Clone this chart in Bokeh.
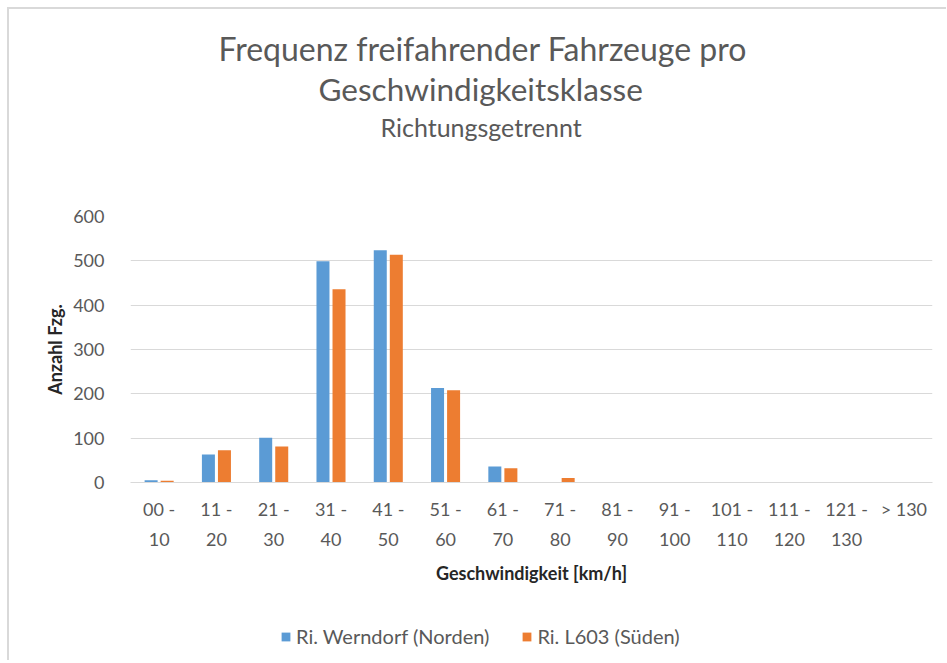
from bokeh.plotting import figure
from bokeh.layouts import column
from bokeh.models import (ColumnDataSource, FactorRange, Range1d, FixedTicker, Legend, LegendItem, Title)
from bokeh.transform import dodge
from bokeh.embed import file_html
from bokeh.resources import INLINE

categories = ["00 -\n10", "11 -\n20", "21 -\n30", "31 -\n40", "41 -\n50", "51 -\n60",
              "61 -\n70", "71 -\n80", "81 -\n90", "91 -\n100", "101 -\n110", "111 -\n120",
              "121 -\n130", "> 130"]
nord = [5, 63, 101, 499, 524, 213, 36, 1, 1, 0, 0, 0, 0, 0]
sued = [4, 73, 81, 436, 514, 208, 32, 10, 0, 0, 0, 0, 0, 0]
y_ticks = [0, 100, 200, 300, 400, 500, 600]

title1 = "Frequenz freifahrender Fahrzeuge pro"
title2 = "Geschwindigkeitsklasse"
subtitle = "Richtungsgetrennt"
series_names = ["Ri. Werndorf (Norden)", "Ri. L603 (Süden)"]

BLUE = "#5B9BD5"
ORANGE = "#ED7D31"
GRAY = "#595959"
BORDER = "2px solid #D9D9D9"
FONT = "Lato"

src = ColumnDataSource(data=dict(cat=categories, nord=nord, sued=sued))

p = figure(x_range=FactorRange(*categories, range_padding=0), y_range=Range1d(0, 600),
           frame_width=800, frame_height=264, output_backend="svg", toolbar_location=None,
           min_border_left=121, min_border_right=16, min_border_top=207, min_border_bottom=130)
p.x_range.factor_padding = 0
p.margin = (7, 0, 0, 7)
p.styles = {"border-top": BORDER, "border-left": BORDER}

r1 = p.vbar(x=dodge("cat", -0.14, range=p.x_range), top="nord", width=0.227, source=src,
            fill_color=BLUE, line_color=None)
r2 = p.vbar(x=dodge("cat", 0.14, range=p.x_range), top="sued", width=0.227, source=src,
            fill_color=ORANGE, line_color=None)

p.outline_line_color = None
p.xgrid.grid_line_color = None
p.ygrid.grid_line_color = "#D9D9D9"
p.ygrid.grid_line_width = 1
p.yaxis.ticker = FixedTicker(ticks=y_ticks)
p.yaxis.axis_line_color = None
p.yaxis.major_tick_line_color = None
p.yaxis.minor_tick_line_color = None
p.yaxis.major_label_text_font = FONT
p.yaxis.major_label_text_font_size = "18px"
p.yaxis.major_label_text_color = GRAY
p.yaxis.major_label_standoff = 20
p.yaxis.axis_label = "Anzahl Fzg."
p.yaxis.axis_label_text_font = FONT
p.yaxis.axis_label_text_font_style = "bold"
p.yaxis.axis_label_text_font_size = "18px"
p.yaxis.axis_label_text_color = "#262626"
p.yaxis.axis_label_standoff = 4

p.xaxis.axis_line_color = "#D9D9D9"
p.xaxis.major_tick_line_color = None
p.xaxis.minor_tick_line_color = None
p.xaxis.major_label_text_font = FONT
p.xaxis.major_label_text_font_size = "18px"
p.xaxis.major_label_text_color = GRAY
p.xaxis.major_label_text_line_height = 1.4
p.xaxis.major_label_standoff = 9
p.xaxis.axis_label = "Geschwindigkeit [km/h]"
p.xaxis.axis_label_text_font = FONT
p.xaxis.axis_label_text_font_style = "bold"
p.xaxis.axis_label_text_font_size = "18px"
p.xaxis.axis_label_text_color = "#262626"
p.xaxis.axis_label_standoff = 9

# titles: first added sits nearest the frame (the first one is an empty spacer)
for txt, size, off, so in [(" ", "10px", 58, 58), (subtitle, "25px", 250, 5),
                           (title2, "31.5px", 188, 0), (title1, "32px", 88, 0)]:
    p.add_layout(Title(text=txt, align="left", offset=off, standoff=so, text_font=FONT,
                       text_font_size=size, text_color=GRAY, text_font_style="normal"), "above")

# legend strip below the chart
q = figure(x_range=Range1d(0, 1), y_range=Range1d(0, 1), frame_width=937, frame_height=50,
           output_backend="svg", toolbar_location=None, x_axis_type=None, y_axis_type=None,
           min_border=0)
q.margin = (0, 0, 0, 7)
q.styles = {"border-left": BORDER}
q.outline_line_color = None
q.xgrid.grid_line_color = None
q.ygrid.grid_line_color = None
# legend-only helper glyphs, kept outside the visible range of this strip
keys = ColumnDataSource(data=dict(x=[5.0], top=[5.0]))
l1 = q.vbar(x="x", top="top", width=0.1, source=keys, fill_color=BLUE, line_color=None)
l2 = q.vbar(x="x", top="top", width=0.1, source=keys, fill_color=ORANGE, line_color=None)
legend = Legend(items=[LegendItem(label=series_names[0], renderers=[l1]),
                       LegendItem(label=series_names[1], renderers=[l2])],
                orientation="horizontal", location=(271, 12),
                label_text_font=FONT, label_text_font_size="20px", label_text_color=GRAY,
                glyph_width=11, glyph_height=11, spacing=32, border_line_color=None,
                background_fill_alpha=0, margin=0, padding=4)
q.add_layout(legend, "center")

layout = column(p, q, spacing=0)
open("out.html", "w").write(file_html(layout, INLINE))
